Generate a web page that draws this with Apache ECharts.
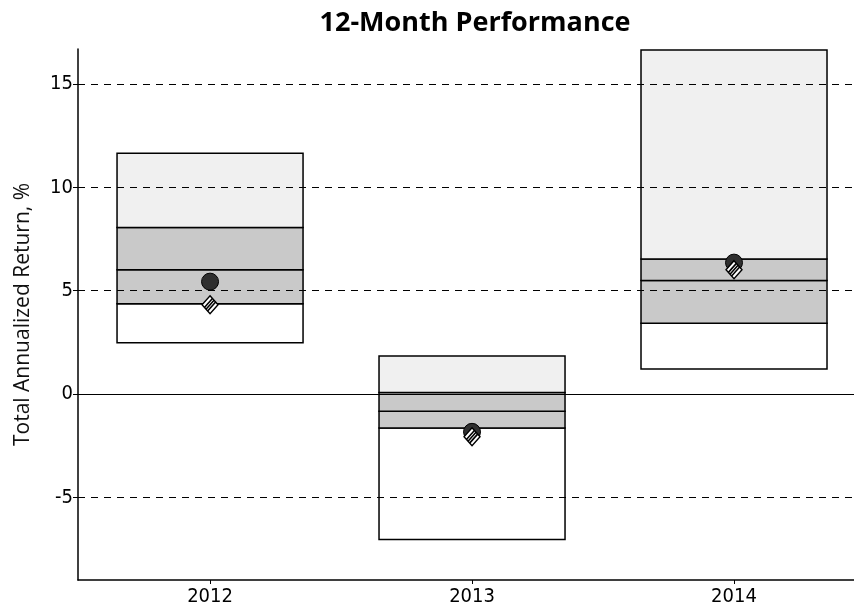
<!DOCTYPE html>
<html>
<head>
<meta charset="utf-8">
<script src="https://cdn.jsdelivr.net/npm/echarts@6/dist/echarts.min.js"></script>
<style>
html,body{margin:0;padding:0;background:#fff;}
#chart{width:854px;height:615px;}
</style>
</head>
<body>
<div id="chart"></div>
<script>
// ---- data ----
var years = [2012, 2013, 2014];
var maxVals = [11.65, 1.84, 16.65];
var upperVals = [8.06, 0.08, 6.54];
var medianVals = [6.02, -0.83, 5.50];
var lowerVals = [4.37, -1.64, 3.43];
var minVals = [2.48, -7.04, 1.21];
var circleVals = [5.44, -1.83, 6.36];
var diamondVals = [4.32, -2.07, 6.02];
var yTicks = [-5, 0, 5, 10, 15];
var dashedLines = [15, 10, 5, -5];

var fills = ['#ffffff', '#c9c9c9', '#c9c9c9', '#f0f0f0'];

var bandData = [];
years.forEach(function (yr, i) {
  bandData.push([yr, minVals[i], lowerVals[i], 0]);
  bandData.push([yr, lowerVals[i], medianVals[i], 1]);
  bandData.push([yr, medianVals[i], upperVals[i], 2]);
  bandData.push([yr, upperVals[i], maxVals[i], 3]);
});

var condensed = "'DejaVu Sans Condensed','Liberation Sans Narrow','DejaVu Sans',sans-serif";
var chart = echarts.init(document.getElementById('chart'));
var hw = 0.355;

function diamondItem(params, api) {
  var c = api.coord([api.value(0), api.value(1)]);
  var w = 8, h = 9;
  var top = [c[0], c[1] - h], right = [c[0] + w, c[1]], bottom = [c[0], c[1] + h], left = [c[0] - w, c[1]];
  var children = [{
    type: 'polygon', shape: {points: [top, right, bottom, left]},
    style: {fill: '#fff', stroke: '#000', lineWidth: 1.4}
  }];
  [0.3, 0.5, 0.7].forEach(function (t) {
    var a = [left[0] + t * (bottom[0] - left[0]), left[1] + t * (bottom[1] - left[1])];
    var b = [top[0] + t * (right[0] - top[0]), top[1] + t * (right[1] - top[1])];
    children.push({type: 'line', shape: {x1: a[0], y1: a[1], x2: b[0], y2: b[1]},
      style: {stroke: '#000', lineWidth: 1.6}});
  });
  return {type: 'group', children: children};
}

chart.setOption({
  animation: false,
  title: {
    text: '12-Month Performance',
    left: 470, top: 5, textAlign: 'center',
    textStyle: {fontFamily: "'Open Sans', sans-serif", fontWeight: 'bold', fontSize: 27, color: '#000'}
  },
  grid: {left: 78, right: 0, top: 49, bottom: 35},
  xAxis: {
    type: 'value', min: 2011.496, max: 2014.458,
    axisLine: {onZero: false, lineStyle: {color: '#000', width: 1.5}},
    axisTick: {show: true, length: 4, customValues: years, lineStyle: {color: '#000'}},
    axisLabel: {customValues: years, color: '#000', fontSize: 20, fontFamily: condensed, margin: 7,
      formatter: function (v) { return String(Math.round(v)); }},
    splitLine: {show: false}
  },
  yAxis: {
    type: 'value', min: -9, max: 16.7,
    name: 'Total Annualized Return, %', nameLocation: 'middle', nameGap: 44,
    nameTextStyle: {fontFamily: "'Open Sans', sans-serif", fontSize: 21, color: '#111'},
    axisLine: {show: true, onZero: false, lineStyle: {color: '#000', width: 1.5}},
    axisTick: {show: true, length: 5, customValues: yTicks, lineStyle: {color: '#000'}},
    axisLabel: {customValues: yTicks, color: '#000', fontSize: 20, fontFamily: condensed, margin: 5},
    splitLine: {show: false}
  },
  series: [
    {
      type: 'line', data: [], z: 1, silent: true,
      markLine: {
        symbol: 'none', silent: true, label: {show: false},
        data: dashedLines.map(function (v) {
          return {yAxis: v, lineStyle: {color: '#000', width: 1, type: [7, 6]}};
        }).concat([{yAxis: 0, lineStyle: {color: '#000', width: 1, type: 'solid'}}])
      }
    },
    {
      type: 'custom', z: 2, data: bandData,
      renderItem: function (params, api) {
        var x = api.value(0), lo = api.value(1), hi = api.value(2);
        var p1 = api.coord([x - hw, hi]);
        var p2 = api.coord([x + hw, lo]);
        return {
          type: 'rect',
          shape: {x: p1[0], y: p1[1], width: p2[0] - p1[0], height: p2[1] - p1[1]},
          style: {fill: fills[api.value(3)], stroke: '#000', lineWidth: 1.5}
        };
      }
    },
    {
      type: 'scatter', z: 3, symbol: 'circle', symbolSize: 17,
      data: years.map(function (y, i) { return [y, circleVals[i]]; }),
      itemStyle: {color: '#2f2f2f', borderColor: '#000', borderWidth: 1, opacity: 1}
    },
    {
      type: 'custom', z: 4, renderItem: diamondItem,
      data: years.map(function (y, i) { return [y, diamondVals[i]]; })
    }
  ]
});
</script>
</body>
</html>
